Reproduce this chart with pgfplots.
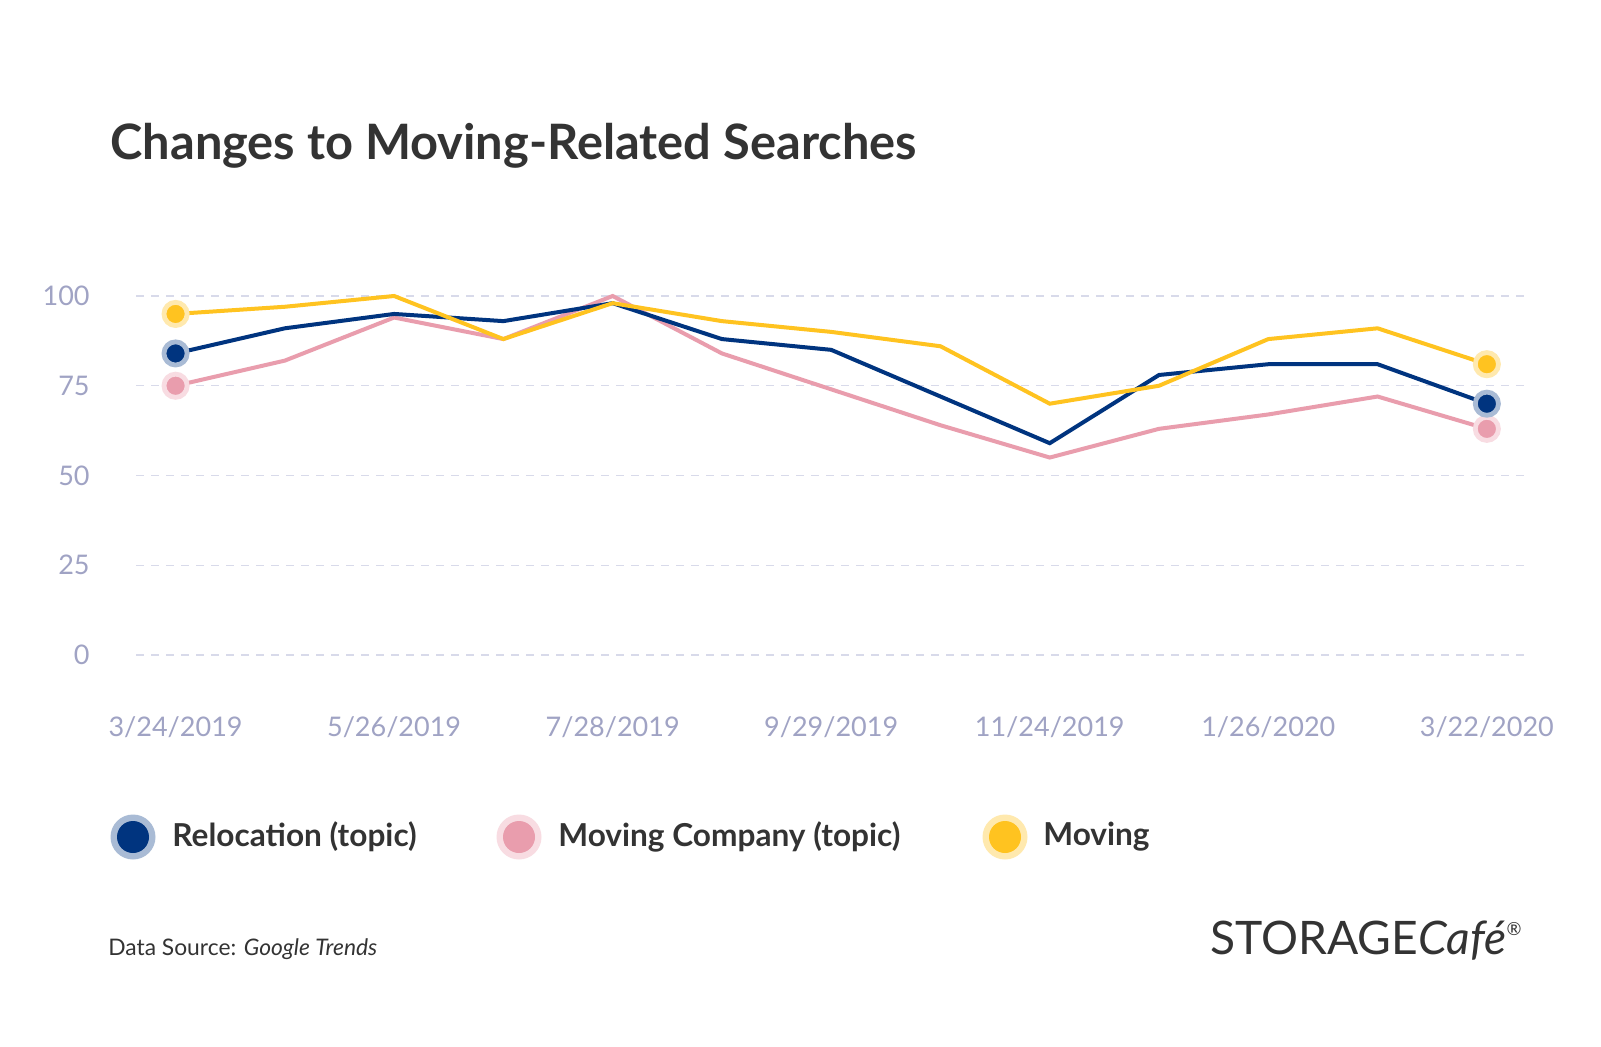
\documentclass[border=0pt]{standalone}
\usepackage{fontspec}
\setmainfont{Lato}
\usepackage{pgfplots}
\pgfplotsset{compat=1.18}
\definecolor{navy}{HTML}{00347F}
\definecolor{navyhalo}{HTML}{A9BBD5}
\definecolor{pinkc}{HTML}{E99DAD}
\definecolor{pinkhalo}{HTML}{F8DCE2}
\definecolor{yel}{HTML}{FFC320}
\definecolor{yelhalo}{HTML}{FFE9AE}
\definecolor{tickc}{HTML}{A0A3C4}
\definecolor{gridc}{HTML}{D8DAEA}
\definecolor{txt}{HTML}{333333}
\begin{document}
\begin{tikzpicture}
\path[use as bounding box, fill=white] (0,0) rectangle (800.5pt,523pt);
\node[anchor=base west, text=txt, font=\fontsize{24.4}{28}\selectfont\bfseries, inner sep=0pt] at (55pt,443pt) {Changes to Moving-Related Searches};
\begin{axis}[
  at={(68pt,195.5pt)}, anchor=south west,
  width=694pt, height=179.5pt, scale only axis,
  xmin=-0.362, xmax=12.34, ymin=0, ymax=100,
  clip=false,
  axis line style={draw=none},
  major tick length=0pt,
  tick style={draw=none},
  ytick={0,25,50,75,100},
  ymajorgrids,
  grid style={draw=gridc, line width=0.75pt, dash pattern=on 4pt off 3.5pt},
  xtick={0,2,4,6,8,10,12},
  xticklabels={3/24/2019,5/26/2019,7/28/2019,9/29/2019,11/24/2019,1/26/2020,3/22/2020},
  /pgf/number format/assume math mode=true,
  ticklabel style={text=tickc, font=\fontsize{13.5}{16}\selectfont, inner sep=0pt},
  xticklabel style={anchor=center, yshift=-36pt},
  yticklabel style={anchor=east, xshift=-23pt},
]
\addplot[pinkc, line width=2pt, mark=*, mark indices={1,13}, mark size=5.8pt,
  mark options={draw=pinkhalo, fill=pinkc, line width=2.4pt}]
  coordinates {(0,75) (1,82) (2,94) (3,88) (4,100) (5,84) (6,74) (7,64) (8,55) (9,63) (10,67) (11,72) (12,63)};
\addplot[navy, line width=2pt, mark=*, mark indices={1,13}, mark size=5.8pt,
  mark options={draw=navyhalo, fill=navy, line width=2.4pt}]
  coordinates {(0,84) (1,91) (2,95) (3,93) (4,98) (5,88) (6,85) (7,72) (8,59) (9,78) (10,81) (11,81) (12,70)};
\addplot[yel, line width=2pt, mark=*, mark indices={1,13}, mark size=5.8pt,
  mark options={draw=yelhalo, fill=yel, line width=2.4pt}]
  coordinates {(0,95) (1,97) (2,100) (3,88) (4,98) (5,93) (6,90) (7,86) (8,70) (9,75) (10,88) (11,91) (12,81)};
\end{axis}
% legend
\fill[navyhalo] (66.5pt,104.5pt) circle (11.25pt);
\fill[navy] (66.5pt,104.5pt) circle (8pt);
\node[anchor=west, inner sep=0pt, text=txt, font=\fontsize{15.8}{18}\selectfont\bfseries] at (86pt,104.5pt) {Relocation (topic)};
\fill[pinkhalo] (259.5pt,104.5pt) circle (11.25pt);
\fill[pinkc] (259.5pt,104.5pt) circle (8pt);
\node[anchor=west, inner sep=0pt, text=txt, font=\fontsize{15.8}{18}\selectfont\bfseries] at (279pt,104.5pt) {Moving Company (topic)};
\fill[yelhalo] (502.5pt,104.5pt) circle (11.25pt);
\fill[yel] (502.5pt,104.5pt) circle (8pt);
\node[anchor=west, inner sep=0pt, text=txt, font=\fontsize{15.8}{18}\selectfont\bfseries] at (521.5pt,104.5pt) {Moving};
% footer
\node[anchor=west, inner sep=0pt, text=txt, font=\fontsize{11.4}{13}\selectfont] at (54pt,48.5pt) {Data Source: \textit{Google Trends}};
\node[anchor=base east, inner sep=0pt, text=txt, font=\fontsize{23.1}{26}\selectfont] at (761.5pt,46pt) {STORAGE\textit{Café}\textsuperscript{\fontsize{9}{9}\selectfont ®}};
\end{tikzpicture}
\end{document}
